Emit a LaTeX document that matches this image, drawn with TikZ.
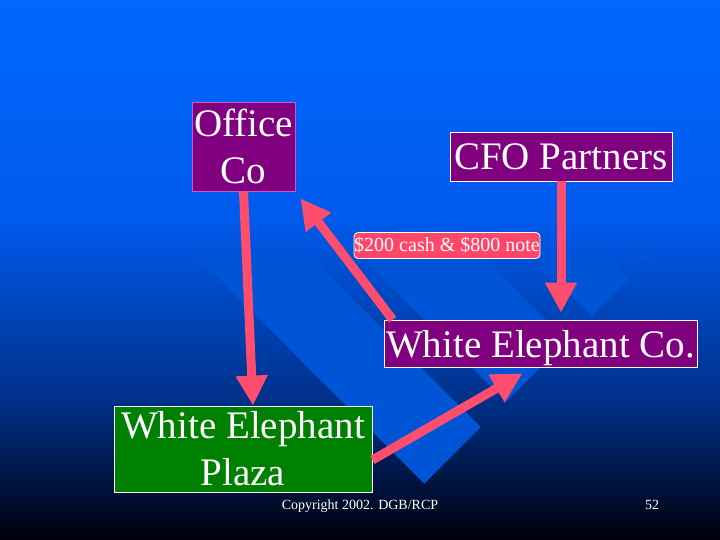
\documentclass[tikz,border=0pt]{standalone}
\usepackage{fontspec}
\setmainfont{Liberation Serif}
\usetikzlibrary{arrows.meta}

\definecolor{skytop}{RGB}{0,104,255}
\definecolor{skymid}{RGB}{0,90,236}
\definecolor{skylow}{RGB}{0,48,136}
\definecolor{skyend}{RGB}{0,0,10}
\definecolor{bandblue}{RGB}{0,84,214}
\definecolor{boxpurple}{RGB}{128,0,128}
\definecolor{boxgreen}{RGB}{0,128,0}
\definecolor{arrowpink}{RGB}{255,77,110}
\definecolor{notepink}{RGB}{255,70,105}

\begin{document}
\begin{tikzpicture}[x=1pt,y=-1pt,
	box/.style={draw=white, line width=0.8pt, fill=boxpurple, text=white,
		inner sep=0pt, align=center, font=\fontsize{39}{47}\selectfont},
	flow/.style={draw=arrowpink, line width=9pt, -{Triangle[width=30pt,length=30pt]}},
	band/.style={fill=bandblue, blend mode=lighten}]
		\useasboundingbox (0,0) rectangle (720,540);
		% slide background
		\shade[top color=skytop, bottom color=skymid] (0,0) rectangle (720,220);
		\shade[top color=skymid, bottom color=skylow] (0,220) rectangle (720,400);
		\shade[top color=skylow, bottom color=skyend] (0,400) rectangle (720,540);
		\foreach \ca/\cb in {-42/38,74/160,195/247,269/300}
			\fill[band] ({(642+\ca)*0.7071},{(642-\ca)*0.7071}) -- ({(642+\cb)*0.7071},{(642-\cb)*0.7071})
				-- ({(\cb-60)*0.7071},{(-60-\cb)*0.7071}) -- ({(\ca-60)*0.7071},{(-60-\ca)*0.7071}) -- cycle;

		\node[box, draw={rgb,255:red,200;green,90;blue,200}, minimum width=103pt, minimum height=89pt] (office) at (243.5,146.5) {Office\\Co};
		\node[box, minimum width=222pt, minimum height=49pt] (cfo) at (561,156.5) {CFO Partners};
		\node[box, fill=notepink, rounded corners=4pt, minimum width=186pt, minimum height=26pt,
			font=\fontsize{20}{24}\selectfont] (note) at (447,245.5) {\$200 cash \& \$800 note};
		\node[box, text depth=0pt, minimum width=313pt, minimum height=47pt] (wec) at (540.5,343.5) {White Elephant Co.};
		\node[box, fill=boxgreen, minimum width=258pt, minimum height=86pt] (plaza) at (243,449) {White Elephant\\Plaza};
		\node[text=white, font=\fontsize{14}{16}\selectfont, anchor=base] (copy) at (360,509) {Copyright 2002. DGB/RCP};
		\node[text=white, font=\fontsize{14}{16}\selectfont, anchor=base] (page) at (652,509) {52};

		\draw[flow] (office.south) -- ([xshift=10pt]plaza.north);
		\draw[flow] (cfo.south) -- ([xshift=20.5pt,yshift=7pt]wec.north);
		\draw[flow] ([xshift=9pt]wec.north west) -- ([xshift=5pt,yshift=-7pt]office.south east);
		\draw[flow] ([yshift=-11pt]plaza.east) -- ([xshift=-18pt,yshift=-6pt]wec.south);
	\end{tikzpicture}
\end{document}
